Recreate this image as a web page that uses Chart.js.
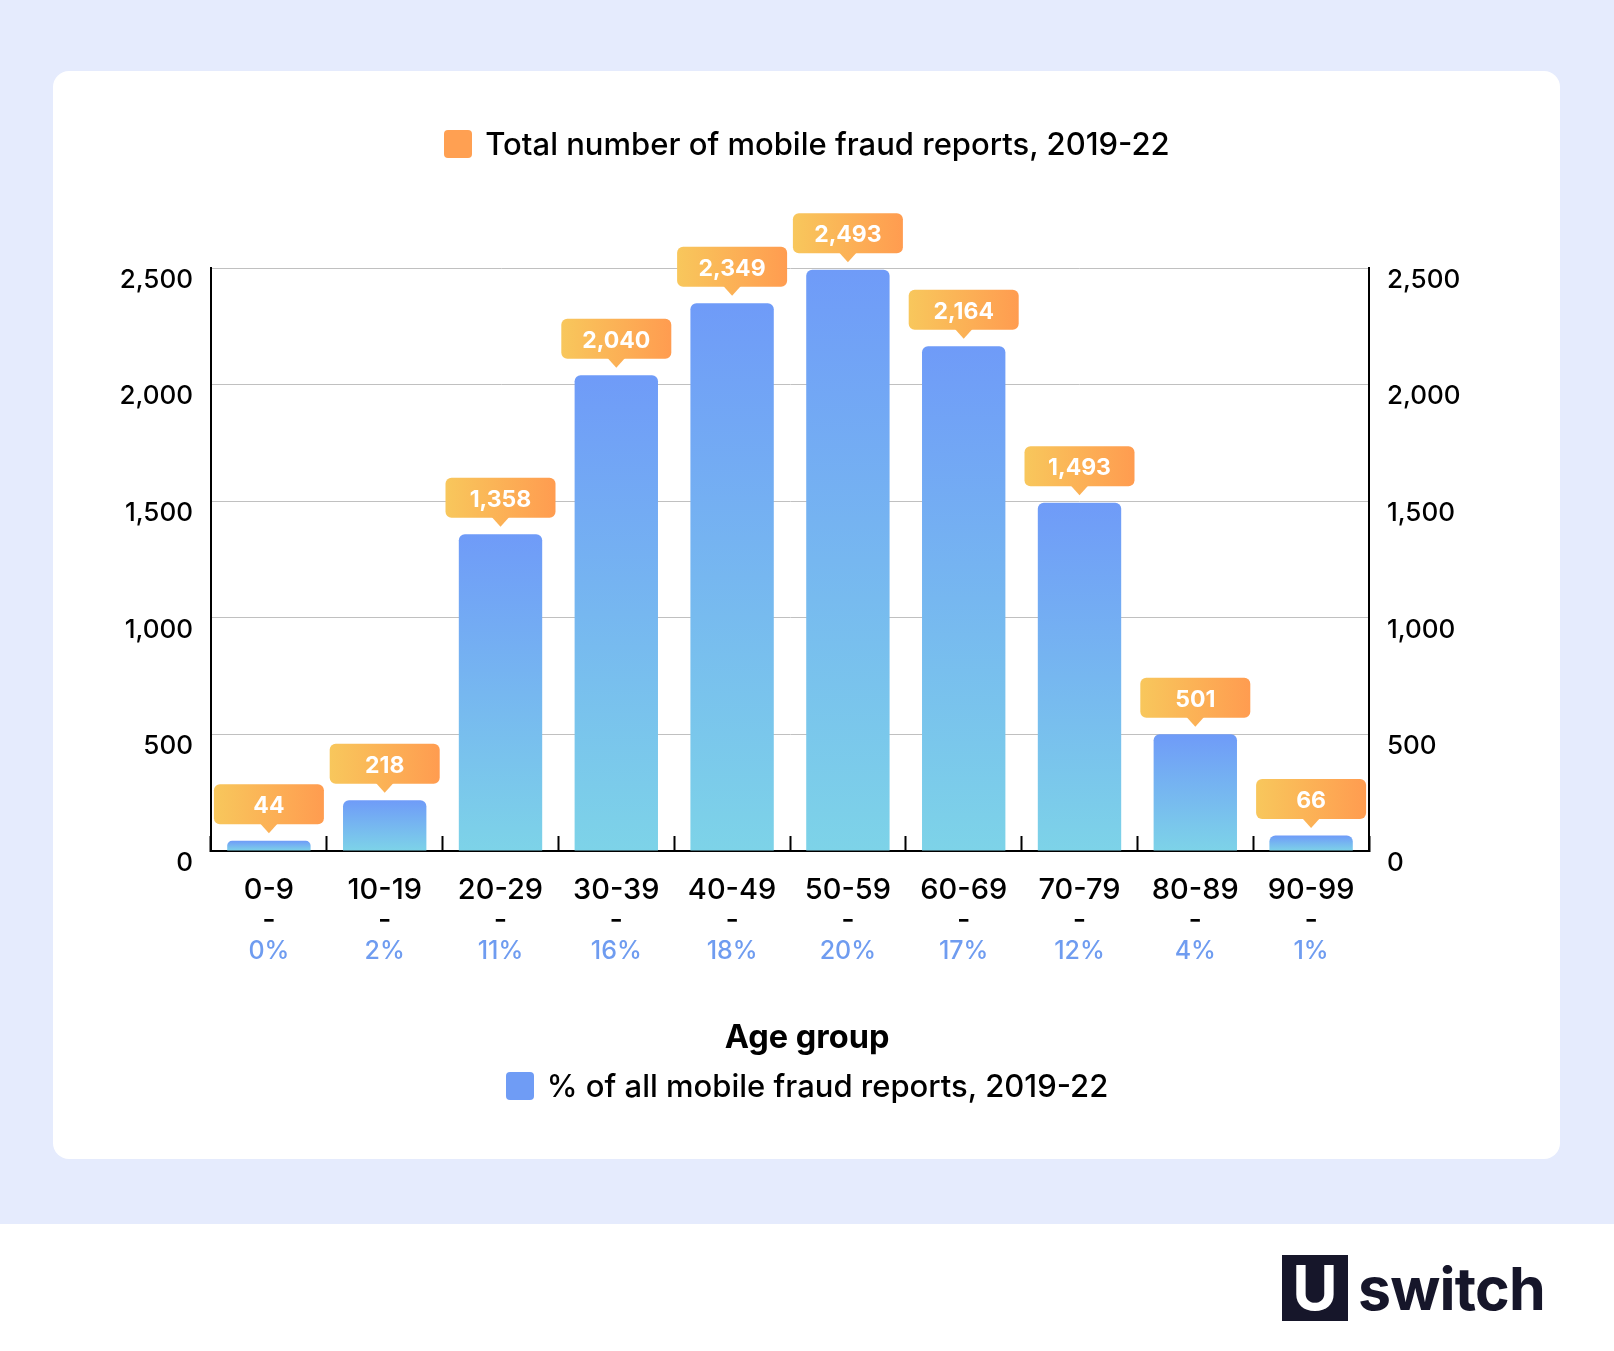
<!DOCTYPE html>
<html>
<head>
<meta charset="utf-8">
<title>Mobile fraud reports by age group</title>
<script src="https://cdn.jsdelivr.net/npm/chart.js@4/dist/chart.umd.js"></script>
<style>
    html, body { margin: 0; padding: 0; background: #fff; }
    body { width: 1614px; height: 1351px; position: relative; overflow: hidden; font-family: Inter, sans-serif; font-weight: 500; color: #000; }
    #band { position: absolute; left: 0; top: 0; width: 1614px; height: 1224px; background: #e5ebfd; }
    #card { position: absolute; left: 53px; top: 71px; width: 1507px; height: 1088px; background: #fff; border-radius: 16px; }
    canvas { position: absolute; left: 0; top: 0; }
    .legend { position: absolute; left: 0; width: 1614px; text-align: center; font-size: 31px; line-height: 40px; white-space: nowrap; }
    .legend i { display: inline-block; width: 28px; height: 28px; border-radius: 4px; margin-right: 13px; vertical-align: -3px; }
    #axis-title { position: absolute; left: 0; top: 1017px; width: 1614px; text-align: center; font-size: 32.5px; font-weight: 700; line-height: 40px; }
    #logo-box { position: absolute; left: 1282px; top: 1255px; width: 66px; height: 66px; background: #16162a; color: #fff; font: 700 62px/66px Inter, sans-serif; text-align: center; }
    #logo-text { position: absolute; left: 1358px; top: 1252px; color: #16162a; font: 700 59px/74px Inter, sans-serif; letter-spacing: -0.8px; }
</style>
</head>
<body>
<div id="band"></div>
<div id="card"></div>
<canvas id="fraud-chart" width="1614" height="1351"></canvas>
<div class="legend" style="top:124px"><i style="background:#ffa052"></i>Total number of mobile fraud reports, 2019-22</div>
<div id="axis-title">Age group</div>
<div class="legend" style="top:1066px"><i style="background:#6f9cf5"></i>% of all mobile fraud reports, 2019-22</div>
<div id="logo-box">U</div>
<div id="logo-text">switch</div>

<script>
    var ageGroups = ['0-9', '10-19', '20-29', '30-39', '40-49', '50-59', '60-69', '70-79', '80-89', '90-99'];
    var reportCounts = [44, 218, 1358, 2040, 2349, 2493, 2164, 1493, 501, 66];
    var sharePercents = ['0%', '2%', '11%', '16%', '18%', '20%', '17%', '12%', '4%', '1%'];

    var FONT = 'Inter, sans-serif';

    // Each bar has its own top to bottom fade
    function barGradient(context) {
        var chart = context.chart;
        if (!chart.chartArea || !context.parsed) {
            return '#6f9cf5';
        }
        var top = chart.scales.y.getPixelForValue(context.parsed.y);
        var bottom = chart.scales.y.getPixelForValue(0);
        var fill = chart.ctx.createLinearGradient(0, top, 0, bottom);
        fill.addColorStop(0, '#6f9bf8');
        fill.addColorStop(1, '#7dd3e8');
        return fill;
    }

    // Orange callouts above the bars
    var calloutPlugin = {
        id: 'callouts',
        afterDatasetsDraw: function(chart) {
            var ctx = chart.ctx;
            var bars = chart.getDatasetMeta(0).data;
            var boxW = 110, boxH = 40, gap = 16.5, tip = 9;

            bars.forEach(function(bar, i) {
                var cx = bar.x;
                var bottom = bar.y - gap;
                var left = cx - boxW / 2;
                var fill = ctx.createLinearGradient(left, 0, left + boxW, 0);
                fill.addColorStop(0, '#f8c75c');
                fill.addColorStop(1, '#ff9c50');

                ctx.save();
                ctx.fillStyle = fill;
                ctx.beginPath();
                ctx.roundRect(left, bottom - boxH, boxW, boxH, 6);
                ctx.fill();
                ctx.beginPath();
                ctx.moveTo(cx - 9, bottom - 1);
                ctx.lineTo(cx + 9, bottom - 1);
                ctx.lineTo(cx, bottom + tip);
                ctx.closePath();
                ctx.fill();

                ctx.fillStyle = '#fff';
                ctx.font = '700 23px ' + FONT;
                ctx.textAlign = 'center';
                ctx.textBaseline = 'middle';
                ctx.fillText(reportCounts[i].toLocaleString('en-US'), cx, bottom - boxH / 2 + 2);
                ctx.restore();
            });
        }
    };

    function valueAxis(position) {
        return {
            type: 'linear',
            position: position,
            min: 0,
            max: 2500,
            afterFit: function(axis) { axis.width = 100; },
            border: { display: true, color: '#000', width: 2 },
            grid: {
                display: position === 'left',
                color: '#c0c0c0',
                lineWidth: 1,
                drawTicks: false
            },
            ticks: {
                stepSize: 500,
                padding: 18,
                labelOffset: 12,
                color: '#000',
                font: { family: FONT, size: 26, weight: '500' },
                callback: function(v) { return v.toLocaleString('en-US'); }
            }
        };
    }

    new Chart(document.getElementById('fraud-chart'), {
        type: 'bar',
        data: {
            labels: ageGroups.map(function(g) { return [g, '-']; }),
            datasets: [{
                label: 'Total number of mobile fraud reports, 2019-22',
                data: reportCounts,
                backgroundColor: barGradient,
                borderRadius: 6,
                barPercentage: 0.72,
                categoryPercentage: 1,
                xAxisID: 'x',
                yAxisID: 'y'
            }]
        },
        plugins: [calloutPlugin],
        options: {
            responsive: false,
            animation: false,
            devicePixelRatio: 1,
            layout: { padding: { left: 111, right: 145, top: 268, bottom: 270 } },
            plugins: { legend: { display: false }, tooltip: { enabled: false } },
            scales: {
                x: {
                    type: 'category',
                    position: 'bottom',
                    weight: 1,
                    afterFit: function(axis) { axis.height = 84; },
                    border: { display: true, color: '#000', width: 2 },
                    grid: {
                        offset: true,
                        drawOnChartArea: false,
                        drawTicks: true,
                        tickLength: -15,
                        tickColor: '#000',
                        tickWidth: 2
                    },
                    ticks: {
                        padding: 39,
                        color: '#000',
                        maxRotation: 0,
                        autoSkip: false,
                        font: { family: FONT, size: 29, weight: '500', lineHeight: 1.04 }
                    }
                },
                pct: {
                    type: 'category',
                    position: 'bottom',
                    weight: 2,
                    labels: sharePercents,
                    afterFit: function(axis) { axis.height = 146; },
                    border: { display: false },
                    grid: { display: false, drawTicks: false },
                    ticks: {
                        padding: 1,
                        color: '#6f9cf0',
                        maxRotation: 0,
                        autoSkip: false,
                        font: { family: FONT, size: 25, weight: '500' }
                    }
                },
                y: valueAxis('left'),
                y2: valueAxis('right')
            }
        }
    });
</script>
</body>
</html>
